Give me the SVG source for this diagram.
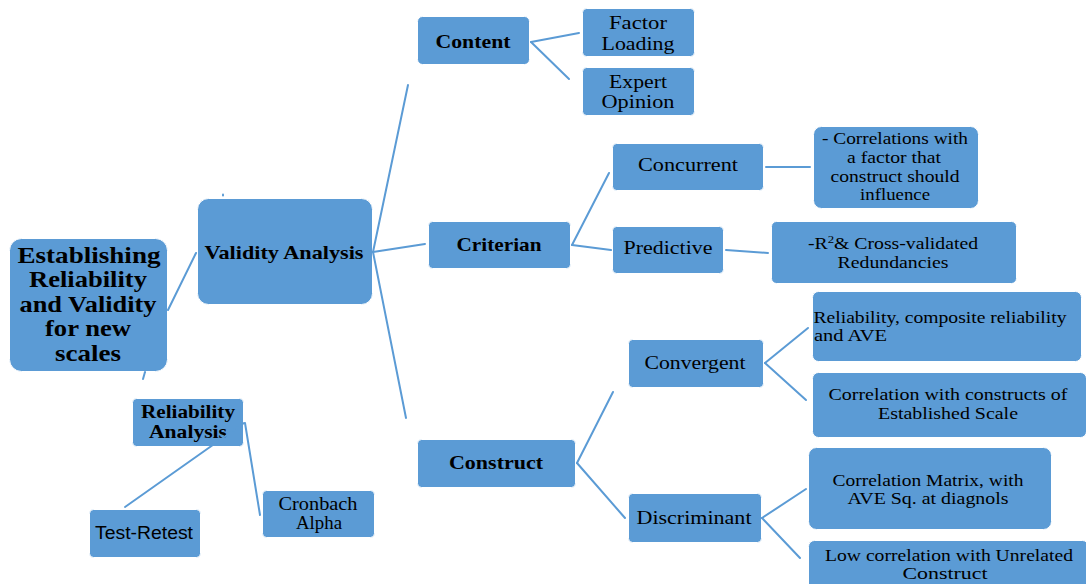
<svg xmlns="http://www.w3.org/2000/svg" width="1086" height="584" viewBox="0 0 1086 584">
<style>
.box{fill:#5B9BD5;stroke:#ffffff;stroke-width:1}
.c{fill:none;stroke:#5B9BD5;stroke-width:2;stroke-linecap:round}
text{fill:#000;font-family:"Liberation Serif","Times New Roman",serif;text-anchor:middle}
.b{font-weight:bold;font-size:19px}
.r{font-size:19px}
.s{font-size:17px}
.sans{font-family:"Liberation Sans",Arial,sans-serif;font-size:18px}
</style>
<rect width="1086" height="584" fill="#ffffff"/>
<g id="main">
<rect class="box" x="9.5" y="238.5" width="158" height="133" rx="12"/>
<text class="b" style="font-size:23px" x="89" y="263" textLength="143" lengthAdjust="spacingAndGlyphs">Establishing</text>
<text class="b" style="font-size:23px" x="88" y="287" textLength="118" lengthAdjust="spacingAndGlyphs">Reliability</text>
<text class="b" style="font-size:23px" x="88" y="312" textLength="137" lengthAdjust="spacingAndGlyphs">and Validity</text>
<text class="b" style="font-size:23px" x="88" y="336" textLength="86" lengthAdjust="spacingAndGlyphs">for new</text>
<text class="b" style="font-size:23px" x="88" y="361" textLength="66" lengthAdjust="spacingAndGlyphs">scales</text>
</g>
<g id="validity">
<rect class="box" x="197.5" y="198.5" width="175" height="106" rx="11"/>
<text class="b" x="284" y="259" textLength="159" lengthAdjust="spacingAndGlyphs">Validity  Analysis</text>
</g>
<g id="reliability">
<rect class="box" x="132.5" y="398.5" width="111" height="48" rx="4"/>
<text class="b" x="188" y="418" textLength="94" lengthAdjust="spacingAndGlyphs">Reliability</text>
<text class="b" x="188" y="438" textLength="78" lengthAdjust="spacingAndGlyphs">Analysis</text>
</g>
<g id="test-retest">
<rect class="box" x="89.5" y="509.5" width="111" height="48" rx="4"/>
<text class="sans" x="144" y="539" textLength="98" lengthAdjust="spacingAndGlyphs">Test-Retest</text>
</g>
<g id="cronbach">
<rect class="box" x="262.5" y="490.5" width="112" height="47" rx="4"/>
<text class="r" x="318" y="510" textLength="79" lengthAdjust="spacingAndGlyphs">Cronbach</text>
<text class="r" x="319" y="529" textLength="46" lengthAdjust="spacingAndGlyphs">Alpha</text>
</g>
<g id="content">
<rect class="box" x="417.5" y="16.5" width="112" height="48" rx="5"/>
<text class="b" x="473" y="48" textLength="75" lengthAdjust="spacingAndGlyphs">Content</text>
</g>
<g id="factor-loading">
<rect class="box" x="582.5" y="8.5" width="112" height="48" rx="4"/>
<text class="r" x="638" y="29" textLength="58" lengthAdjust="spacingAndGlyphs">Factor</text>
<text class="r" x="638" y="50" textLength="73" lengthAdjust="spacingAndGlyphs">Loading</text>
</g>
<g id="expert-opinion">
<rect class="box" x="582.5" y="67.5" width="112" height="48" rx="4"/>
<text class="r" x="638" y="88" textLength="58" lengthAdjust="spacingAndGlyphs">Expert</text>
<text class="r" x="638" y="108" textLength="73" lengthAdjust="spacingAndGlyphs">Opinion</text>
</g>
<g id="criterian">
<rect class="box" x="428.5" y="221.5" width="142" height="47" rx="4"/>
<text class="b" x="499" y="251" textLength="85" lengthAdjust="spacingAndGlyphs">Criterian</text>
</g>
<g id="concurrent">
<rect class="box" x="612.5" y="143.5" width="151" height="47" rx="4"/>
<text class="r" x="688" y="171" textLength="100" lengthAdjust="spacingAndGlyphs">Concurrent</text>
</g>
<g id="predictive">
<rect class="box" x="612.5" y="226.5" width="111" height="47" rx="4"/>
<text class="r" x="668" y="254" textLength="89" lengthAdjust="spacingAndGlyphs">Predictive</text>
</g>
<g id="correlations-factor">
<rect class="box" x="813.5" y="126.5" width="165" height="82" rx="8"/>
<text class="s" x="895" y="144" textLength="146" lengthAdjust="spacingAndGlyphs">- Correlations  with</text>
<text class="s" x="894" y="163" textLength="94" lengthAdjust="spacingAndGlyphs">a factor that</text>
<text class="s" x="895" y="182" textLength="129" lengthAdjust="spacingAndGlyphs">construct should</text>
<text class="s" x="895" y="200" textLength="70" lengthAdjust="spacingAndGlyphs">influence</text>
</g>
<g id="r2">
<rect class="box" x="771.5" y="221.5" width="245" height="62" rx="5"/>
<text class="s" x="893" y="249" textLength="170" lengthAdjust="spacingAndGlyphs">-R<tspan font-size="11" dy="-6">2</tspan><tspan dy="6">&amp; Cross-validated</tspan></text>
<text class="s" x="893" y="268" textLength="111" lengthAdjust="spacingAndGlyphs">Redundancies</text>
</g>
<g id="construct">
<rect class="box" x="417.5" y="439.5" width="158" height="48" rx="4"/>
<text class="b" x="496" y="469" textLength="94" lengthAdjust="spacingAndGlyphs">Construct</text>
</g>
<g id="convergent">
<rect class="box" x="628.5" y="339.5" width="135" height="48" rx="4"/>
<text class="r" x="695" y="369" textLength="101" lengthAdjust="spacingAndGlyphs">Convergent</text>
</g>
<g id="reliability-composite">
<rect class="box" x="812.5" y="291.5" width="269" height="70" rx="6"/>
<text class="s" x="940" y="323" textLength="253" lengthAdjust="spacingAndGlyphs">Reliability,  composite reliability</text>
<text class="s" x="850.5" y="341" textLength="73" lengthAdjust="spacingAndGlyphs">and AVE</text>
</g>
<g id="correlation-established">
<rect class="box" x="812.5" y="372.5" width="274" height="65" rx="6"/>
<text class="s" x="948" y="400" textLength="239" lengthAdjust="spacingAndGlyphs">Correlation  with  constructs of</text>
<text class="s" x="948" y="419" textLength="140" lengthAdjust="spacingAndGlyphs">Established  Scale</text>
</g>
<g id="discriminant">
<rect class="box" x="628.5" y="493.5" width="133" height="49" rx="4"/>
<text class="r" x="694" y="524" textLength="115" lengthAdjust="spacingAndGlyphs">Discriminant</text>
</g>
<g id="correlation-matrix">
<rect class="box" x="808.5" y="447.5" width="243" height="82" rx="8"/>
<text class="s" x="928" y="486" textLength="191" lengthAdjust="spacingAndGlyphs">Correlation Matrix, with</text>
<text class="s" x="928" y="504" textLength="161" lengthAdjust="spacingAndGlyphs">AVE Sq. at diagnols</text>
</g>
<g id="low-correlation">
<rect class="box" x="808.5" y="540.5" width="280" height="50" rx="6"/>
<text class="s" x="949" y="561" textLength="248" lengthAdjust="spacingAndGlyphs">Low correlation with Unrelated</text>
<text class="s" x="945" y="579" textLength="85" lengthAdjust="spacingAndGlyphs">Construct</text>
</g>
<g id="connectors">
<line class="c" x1="168" y1="310" x2="196" y2="253"/>
<line class="c" x1="145" y1="372" x2="143" y2="379"/>
<line class="c" x1="223" y1="194.5" x2="223" y2="195.5"/>
<line class="c" x1="373" y1="252" x2="408" y2="85"/>
<line class="c" x1="373" y1="252" x2="425" y2="244"/>
<line class="c" x1="373" y1="252" x2="406" y2="418"/>
<line class="c" x1="531" y1="42" x2="579" y2="33"/>
<line class="c" x1="531" y1="42" x2="569" y2="79"/>
<line class="c" x1="572" y1="245" x2="609" y2="173"/>
<line class="c" x1="572" y1="245" x2="611" y2="250"/>
<line class="c" x1="766" y1="167" x2="810" y2="167"/>
<line class="c" x1="726" y1="250" x2="768" y2="253"/>
<line class="c" x1="577" y1="463" x2="613" y2="392"/>
<line class="c" x1="577" y1="463" x2="625" y2="518"/>
<line class="c" x1="765" y1="363" x2="808" y2="328"/>
<line class="c" x1="765" y1="363" x2="806" y2="400"/>
<line class="c" x1="762" y1="518" x2="806" y2="489"/>
<line class="c" x1="762" y1="518" x2="800" y2="558"/>
<line class="c" x1="244" y1="423" x2="125" y2="507"/>
<line class="c" x1="245" y1="423" x2="260" y2="515"/>
</g>
</svg>
